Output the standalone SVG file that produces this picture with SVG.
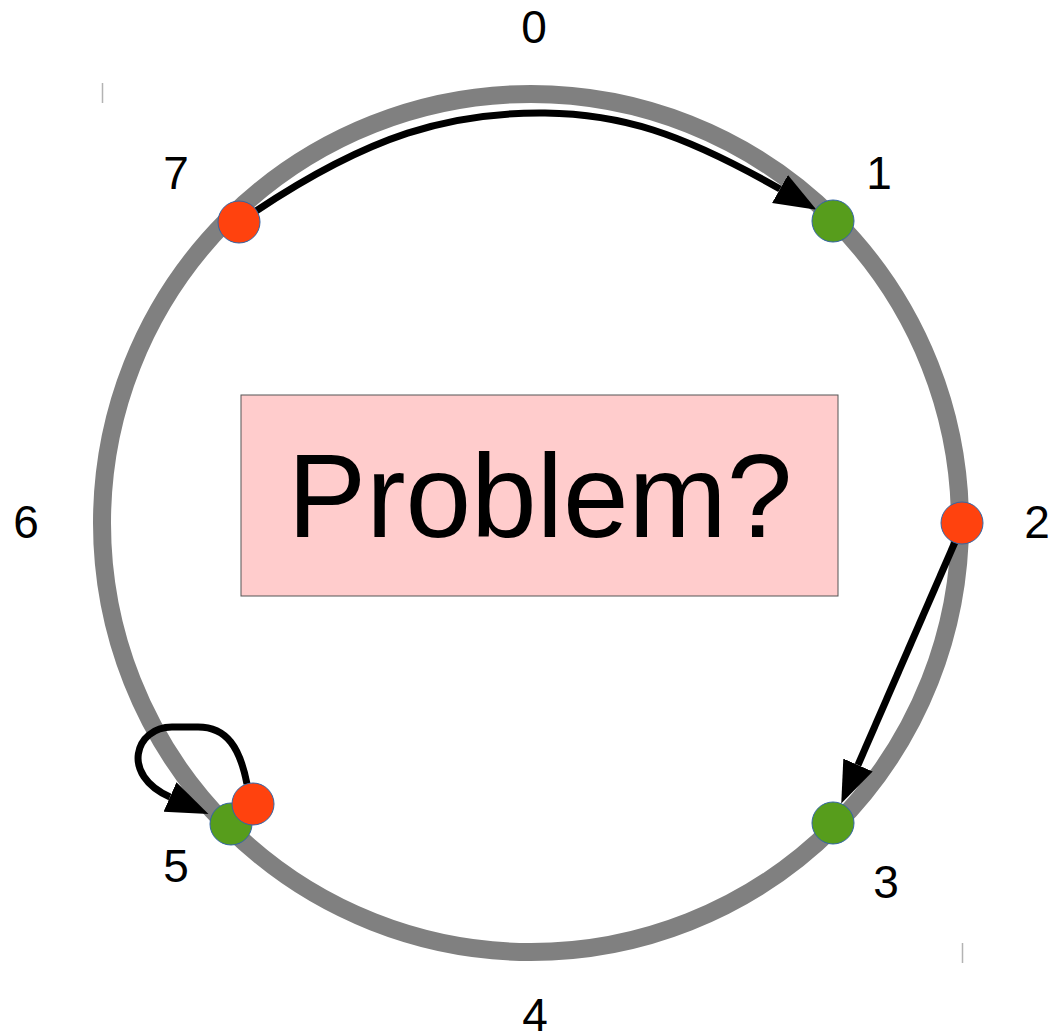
<svg xmlns="http://www.w3.org/2000/svg" width="1064" height="1034" viewBox="0 0 1064 1034">
<style>
.lbl{font-family:"Liberation Sans",Arial,sans-serif;font-size:46px;fill:#000;text-anchor:middle}
.red{fill:#ff420e;stroke:#3465a4;stroke-width:1}
.green{fill:#579d1c;stroke:#3465a4;stroke-width:1}
.conn{fill:none;stroke:#000;stroke-width:7}
.tick{stroke:#b3b3b3;stroke-width:1.5}
</style>
<defs>
<marker id="ah" markerUnits="userSpaceOnUse" markerWidth="44" markerHeight="34" refX="0" refY="16" orient="auto">
<path d="M0,0 L42,16 L0,32 z" fill="#000"/>
</marker>
</defs>
<rect width="1064" height="1034" fill="#fff"/>
<line class="tick" x1="102.5" y1="83" x2="102.5" y2="103"/>
<line class="tick" x1="962.5" y1="943" x2="962.5" y2="963"/>
<g id="ring">
<circle cx="531" cy="523" r="429" fill="none" stroke="#808080" stroke-width="18"/>
</g>
<g id="problem">
<rect x="241" y="395" width="597" height="201" fill="#ffcccc" stroke="#555" stroke-width="1"/>
<text x="540" y="537" font-family="'Liberation Sans',Arial,sans-serif" font-size="118" text-anchor="middle" fill="#000">Problem?</text>
</g>
<g id="connectors">
<path class="conn" d="M256,211 C370,135 450,112 545,113 C620,114 680,132 780,189" marker-end="url(#ah)"/>
<path class="conn" d="M955,542 L858,765" marker-end="url(#ah)"/>
<path class="conn" d="M247,784 C240,748 227,727 198,727 L172,727 C135,727 120,775 170,797" marker-end="url(#ah)"/>
</g>
<g id="node-7"><circle class="red" cx="239" cy="222" r="21"/></g>
<g id="node-1"><circle class="green" cx="833" cy="221" r="21"/></g>
<g id="node-2"><circle class="red" cx="962" cy="523" r="21"/></g>
<g id="node-3"><circle class="green" cx="833" cy="823" r="21"/></g>
<g id="node-5-green"><circle class="green" cx="231" cy="824" r="21"/></g>
<g id="node-5-red"><circle class="red" cx="253" cy="804" r="21"/></g>
<g id="labels">
<text class="lbl" x="534" y="43">0</text>
<text class="lbl" x="879" y="189">1</text>
<text class="lbl" x="1037" y="538">2</text>
<text class="lbl" x="886" y="898">3</text>
<text class="lbl" x="535" y="1031">4</text>
<text class="lbl" x="176" y="882">5</text>
<text class="lbl" x="26" y="538">6</text>
<text class="lbl" x="176" y="189">7</text>
</g>
</svg>
